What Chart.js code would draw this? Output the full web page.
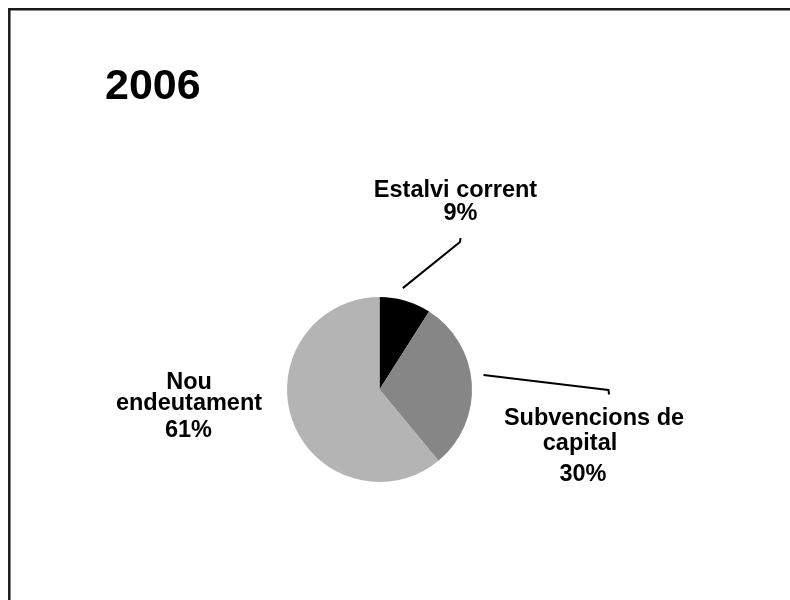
<!DOCTYPE html>
<html>
<head>
<meta charset="utf-8">
<script src="https://cdn.jsdelivr.net/npm/chart.js@4/dist/chart.umd.min.js"></script>
<style>
  html, body { margin: 0; padding: 0; background: #fff; }
  canvas { display: block; }
</style>
</head>
<body>
<canvas id="pieChart" width="790" height="600"></canvas>
<script>
const chartTitle = "2006";
const categories = ["Estalvi corrent", "Subvencions de capital", "Nou endeutament"];
const values = [9, 30, 61];
const labelNames = [["Estalvi corrent"], ["Subvencions de", "capital"], ["Nou", "endeutament"]];
const sliceColors = ["#000000", "#868686", "#b4b4b4"];

// where each label sits, relative to the pie centre (px): [dx, baseline dy]
const labelLayout = [
  { names: [[76, -192.5]], pct: [81, -169.5], lead: { t: 0.4, out: 11.5, end: [80.5, -147.5], hook: -4 } },
  { names: [[214.5, 35], [200.5, 60]], pct: [203.5, 91], lead: { t: 0.46, out: 12.5, end: [229, 0.5], hook: 4.5 } },
  { names: [[-190.5, -1], [-190.5, 20.5]], pct: [-191, 47], lead: null }
];

const labelFont = "bold 23.5px 'Liberation Sans', Arial, sans-serif";

const decorPlugin = {
  id: "decor",
  beforeDraw(chart) {
    const ctx = chart.ctx;
    ctx.save();
    ctx.fillStyle = "#fff";
    ctx.fillRect(0, 0, chart.width, chart.height);
    // frame (top + left only visible)
    ctx.strokeStyle = "#1a1a1a";
    ctx.lineWidth = 2.5;
    ctx.beginPath();
    ctx.moveTo(9.3, chart.height);
    ctx.lineTo(9.3, 9.3);
    ctx.lineTo(chart.width, 9.3);
    ctx.stroke();
    // title
    ctx.fillStyle = "#000";
    ctx.font = "bold 43px 'Liberation Sans', Arial, sans-serif";
    ctx.textAlign = "left";
    ctx.textBaseline = "alphabetic";
    ctx.fillText(chartTitle, 105, 99);
    ctx.restore();
  },
  afterDatasetsDraw(chart) {
    const ctx = chart.ctx;
    const meta = chart.getDatasetMeta(0);
    const total = values.reduce((a, b) => a + b, 0);
    ctx.save();
    meta.data.forEach((arc, i) => {
      const p = arc.getProps(["x", "y", "startAngle", "endAngle", "outerRadius"], true);
      const lay = labelLayout[i];
      if (lay.lead) {
        const a = p.startAngle + (p.endAngle - p.startAngle) * lay.lead.t;
        const r = p.outerRadius + lay.lead.out;
        const ex = p.x + lay.lead.end[0], ey = p.y + lay.lead.end[1];
        ctx.strokeStyle = "#000";
        ctx.lineWidth = 2;
        ctx.lineJoin = "round";
        ctx.beginPath();
        ctx.moveTo(p.x + Math.cos(a) * r, p.y + Math.sin(a) * r);
        ctx.lineTo(ex, ey);
        ctx.lineTo(ex + 0.5, ey + lay.lead.hook);
        ctx.stroke();
      }
      ctx.fillStyle = "#000";
      ctx.font = labelFont;
      ctx.textAlign = "center";
      ctx.textBaseline = "alphabetic";
      labelNames[i].forEach((line, k) => {
        ctx.fillText(line, p.x + lay.names[k][0], p.y + lay.names[k][1]);
      });
      const pct = Math.round(values[i] / total * 100) + "%";
      ctx.fillText(pct, p.x + lay.pct[0], p.y + lay.pct[1]);
    });
    ctx.restore();
  }
};

new Chart(document.getElementById("pieChart"), {
  type: "pie",
  data: {
    labels: categories,
    datasets: [{
      data: values,
      backgroundColor: sliceColors,
      borderWidth: 0
    }]
  },
  options: {
    responsive: false,
    animation: false,
    layout: { padding: { left: 287, right: 318, top: 297, bottom: 118 } },
    plugins: {
      legend: { display: false },
      title: { display: false },
      tooltip: { enabled: false }
    }
  },
  plugins: [decorPlugin]
});
</script>
</body>
</html>
